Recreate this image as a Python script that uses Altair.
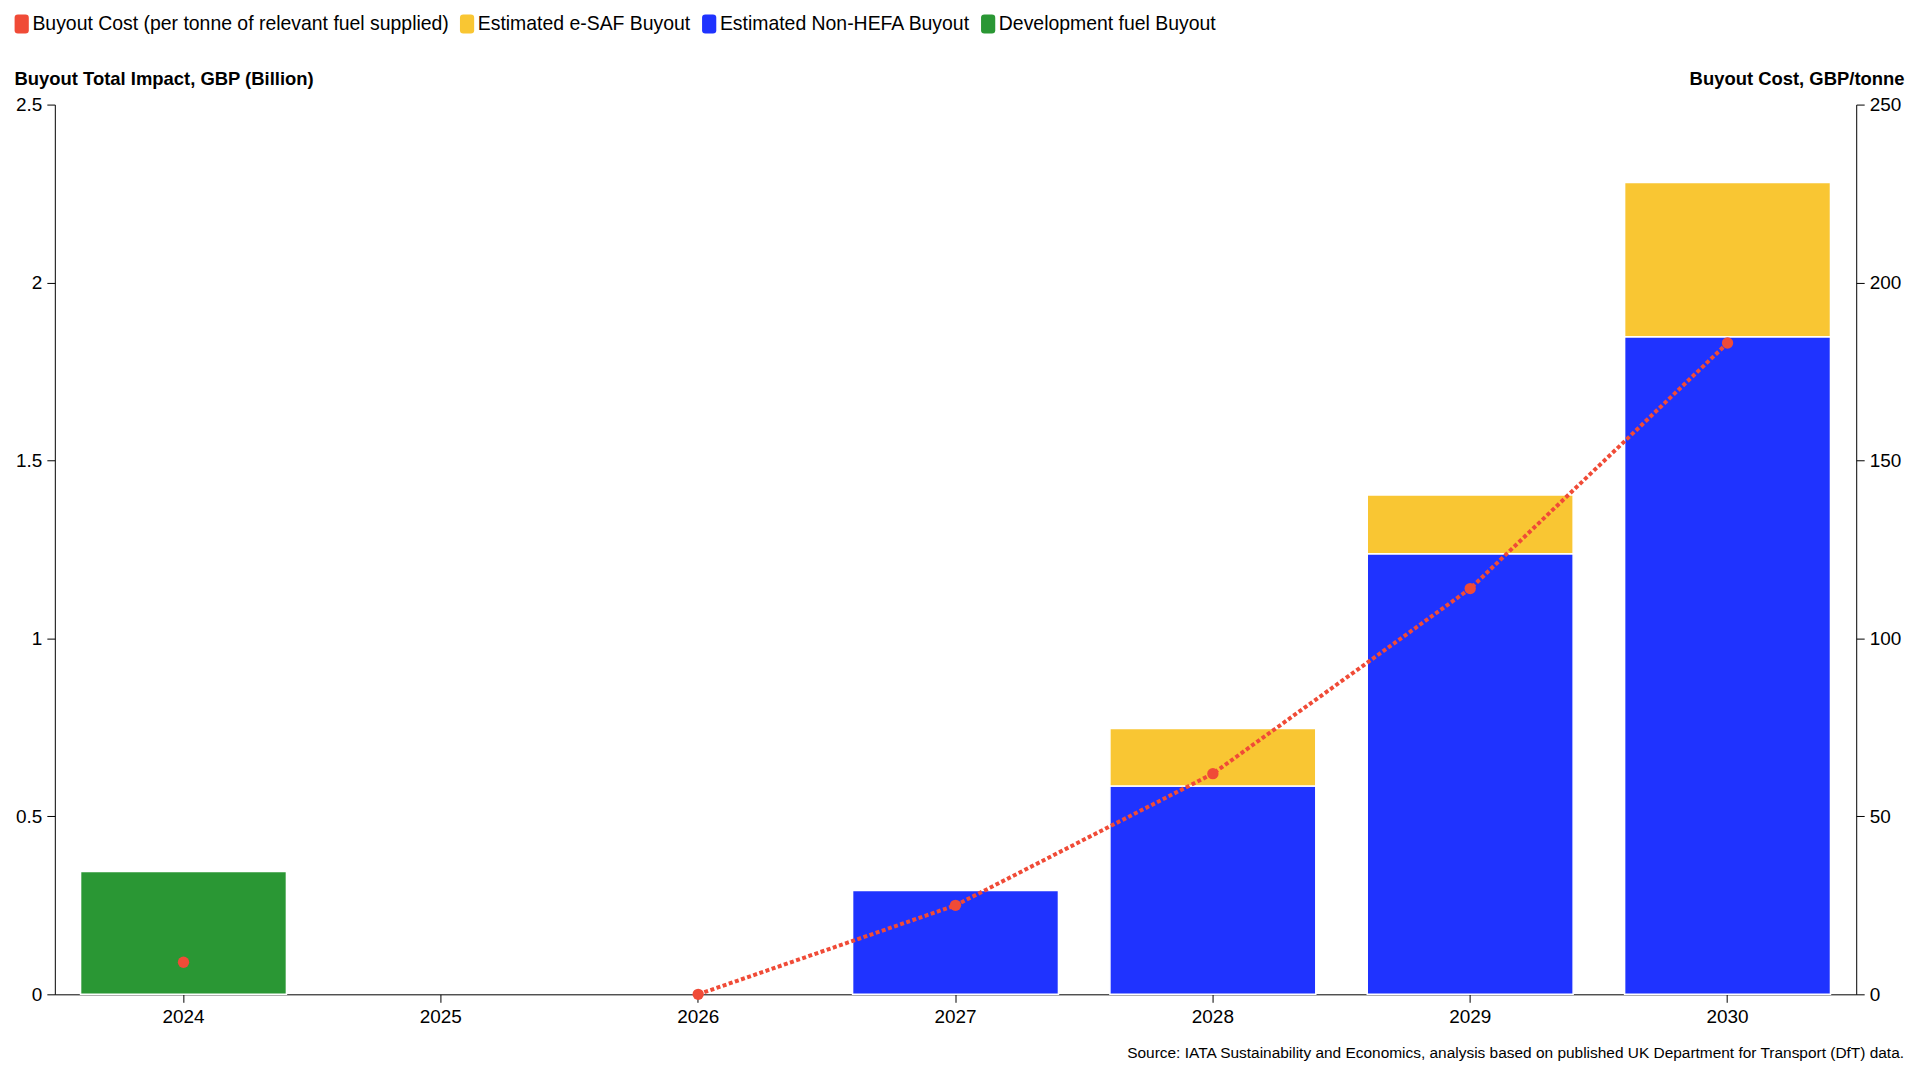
import altair as alt
import pandas as pd

years = ["2024", "2025", "2026", "2027", "2028", "2029", "2030"]

series_cost = "Buyout Cost (per tonne of relevant fuel supplied)"
series_esaf = "Estimated e-SAF Buyout"
series_nonhefa = "Estimated Non-HEFA Buyout"
series_dev = "Development fuel Buyout"

# GBP billion
dev_buyout = [0.345, 0, 0, 0, 0, 0, 0]
nonhefa_buyout = [0, 0, 0, 0.292, 0.585, 1.238, 1.848]
esaf_buyout = [0, 0, 0, 0, 0.162, 0.165, 0.433]

# GBP/tonne
buyout_cost = [9, None, 0, 25, 62, 114, 183]

legend_names = [series_cost, series_esaf, series_nonhefa, series_dev]
legend_colors = ["#F04B37", "#F9C633", "#1F33FF", "#2A9734"]

rows = []
for i, y in enumerate(years):
    if dev_buyout[i] > 0:
        rows.append({"year": y, "series": series_dev, "value": dev_buyout[i], "ord": 0})
    if nonhefa_buyout[i] > 0:
        rows.append({"year": y, "series": series_nonhefa, "value": nonhefa_buyout[i], "ord": 1})
    if esaf_buyout[i] > 0:
        rows.append({"year": y, "series": series_esaf, "value": esaf_buyout[i], "ord": 2})
bar_df = pd.DataFrame(rows)
cost_df = pd.DataFrame({"year": years, "cost": buyout_cost})

FONT = "Liberation Sans"

x_enc = alt.X(
    "year:O",
    scale=alt.Scale(domain=years, paddingInner=0.2, paddingOuter=0.1),
    axis=alt.Axis(title="", labelAngle=0, labelFontSize=19, labelPadding=5),
)

bars = alt.Chart(bar_df).mark_bar(stroke="white", strokeWidth=1.5).encode(
    x=x_enc,
    y=alt.Y(
        "value:Q",
        stack="zero",
        scale=alt.Scale(domain=[0, 2.5], nice=False),
        axis=alt.Axis(
            values=[0, 0.5, 1, 1.5, 2, 2.5],
            format="~g",
            title="Buyout Total Impact, GBP (Billion)",
            titleAngle=0,
            titleAlign="left",
            titleBaseline="middle",
            titleX=-41,
            titleY=-26,
            orient="left",
        ),
    ),
    color=alt.Color(
        "series:N",
        scale=alt.Scale(domain=legend_names, range=legend_colors),
        legend=alt.Legend(
            title="",
            orient="none",
            direction="horizontal",
            legendX=-43,
            legendY=-91,
            symbolType="M-0.4,-1H0.4Q0.75,-1 0.75,-0.65V0.65Q0.75,1 0.4,1H-0.4Q-0.75,1 -0.75,0.65V-0.65Q-0.75,-1 -0.4,-1Z",
            symbolSize=361,
            symbolStrokeWidth=0,
            labelFontSize=19.5,
            labelOffset=1,
            columnPadding=8,
            labelLimit=0,
        ),
    ),
    order=alt.Order("ord:Q"),
)

y_right = alt.Y(
    "cost:Q",
    scale=alt.Scale(domain=[0, 250], nice=False),
    axis=alt.Axis(
        values=[0, 50, 100, 150, 200, 250],
        title="Buyout Cost, GBP/tonne",
        titleAngle=0,
        titleAlign="right",
        titleBaseline="middle",
        titleX=48,
        titleY=-26,
        orient="right",
    ),
)

line = alt.Chart(cost_df).mark_line(
    color="#F04B37", strokeWidth=4, strokeDash=[4, 2.5], invalid="break-paths-show-domains"
).encode(x=x_enc, y=y_right)

points = alt.Chart(cost_df).mark_circle(color="#F04B37", size=130, opacity=1).encode(
    x=x_enc, y=y_right
)

chart = (
    alt.layer(bars, alt.layer(line, points))
    .resolve_scale(y="independent")
    .properties(
        width=1808,
        height=893,
        autosize=alt.AutoSizeParams(type="none"),
        padding={"left": 47, "top": 95, "right": 56, "bottom": 70},
        title=alt.Title(
            "Source: IATA Sustainability and Economics, analysis based on published UK Department for Transport (DfT) data.",
            orient="bottom",
            anchor="end",
            frame="group",
            dx=48,
            offset=20,
            fontSize=15.5,
            fontWeight="normal",
            font=FONT,
            color="black",
        ),
    )
    .configure(font=FONT)
    .configure_view(stroke=None)
    .configure_axis(
        grid=False,
        labelFont=FONT,
        labelFontSize=19,
        labelColor="black",
        tickColor="black",
        domainColor="black",
        tickSize=8,
        labelPadding=5,
        titleFont=FONT,
        titleFontSize=18.5,
        titleFontWeight="bold",
        titleColor="black",
    )
    .configure_legend(labelFont=FONT, labelColor="black")
)

chart.save("out.html", embed_options={"renderer": "svg", "actions": False})
